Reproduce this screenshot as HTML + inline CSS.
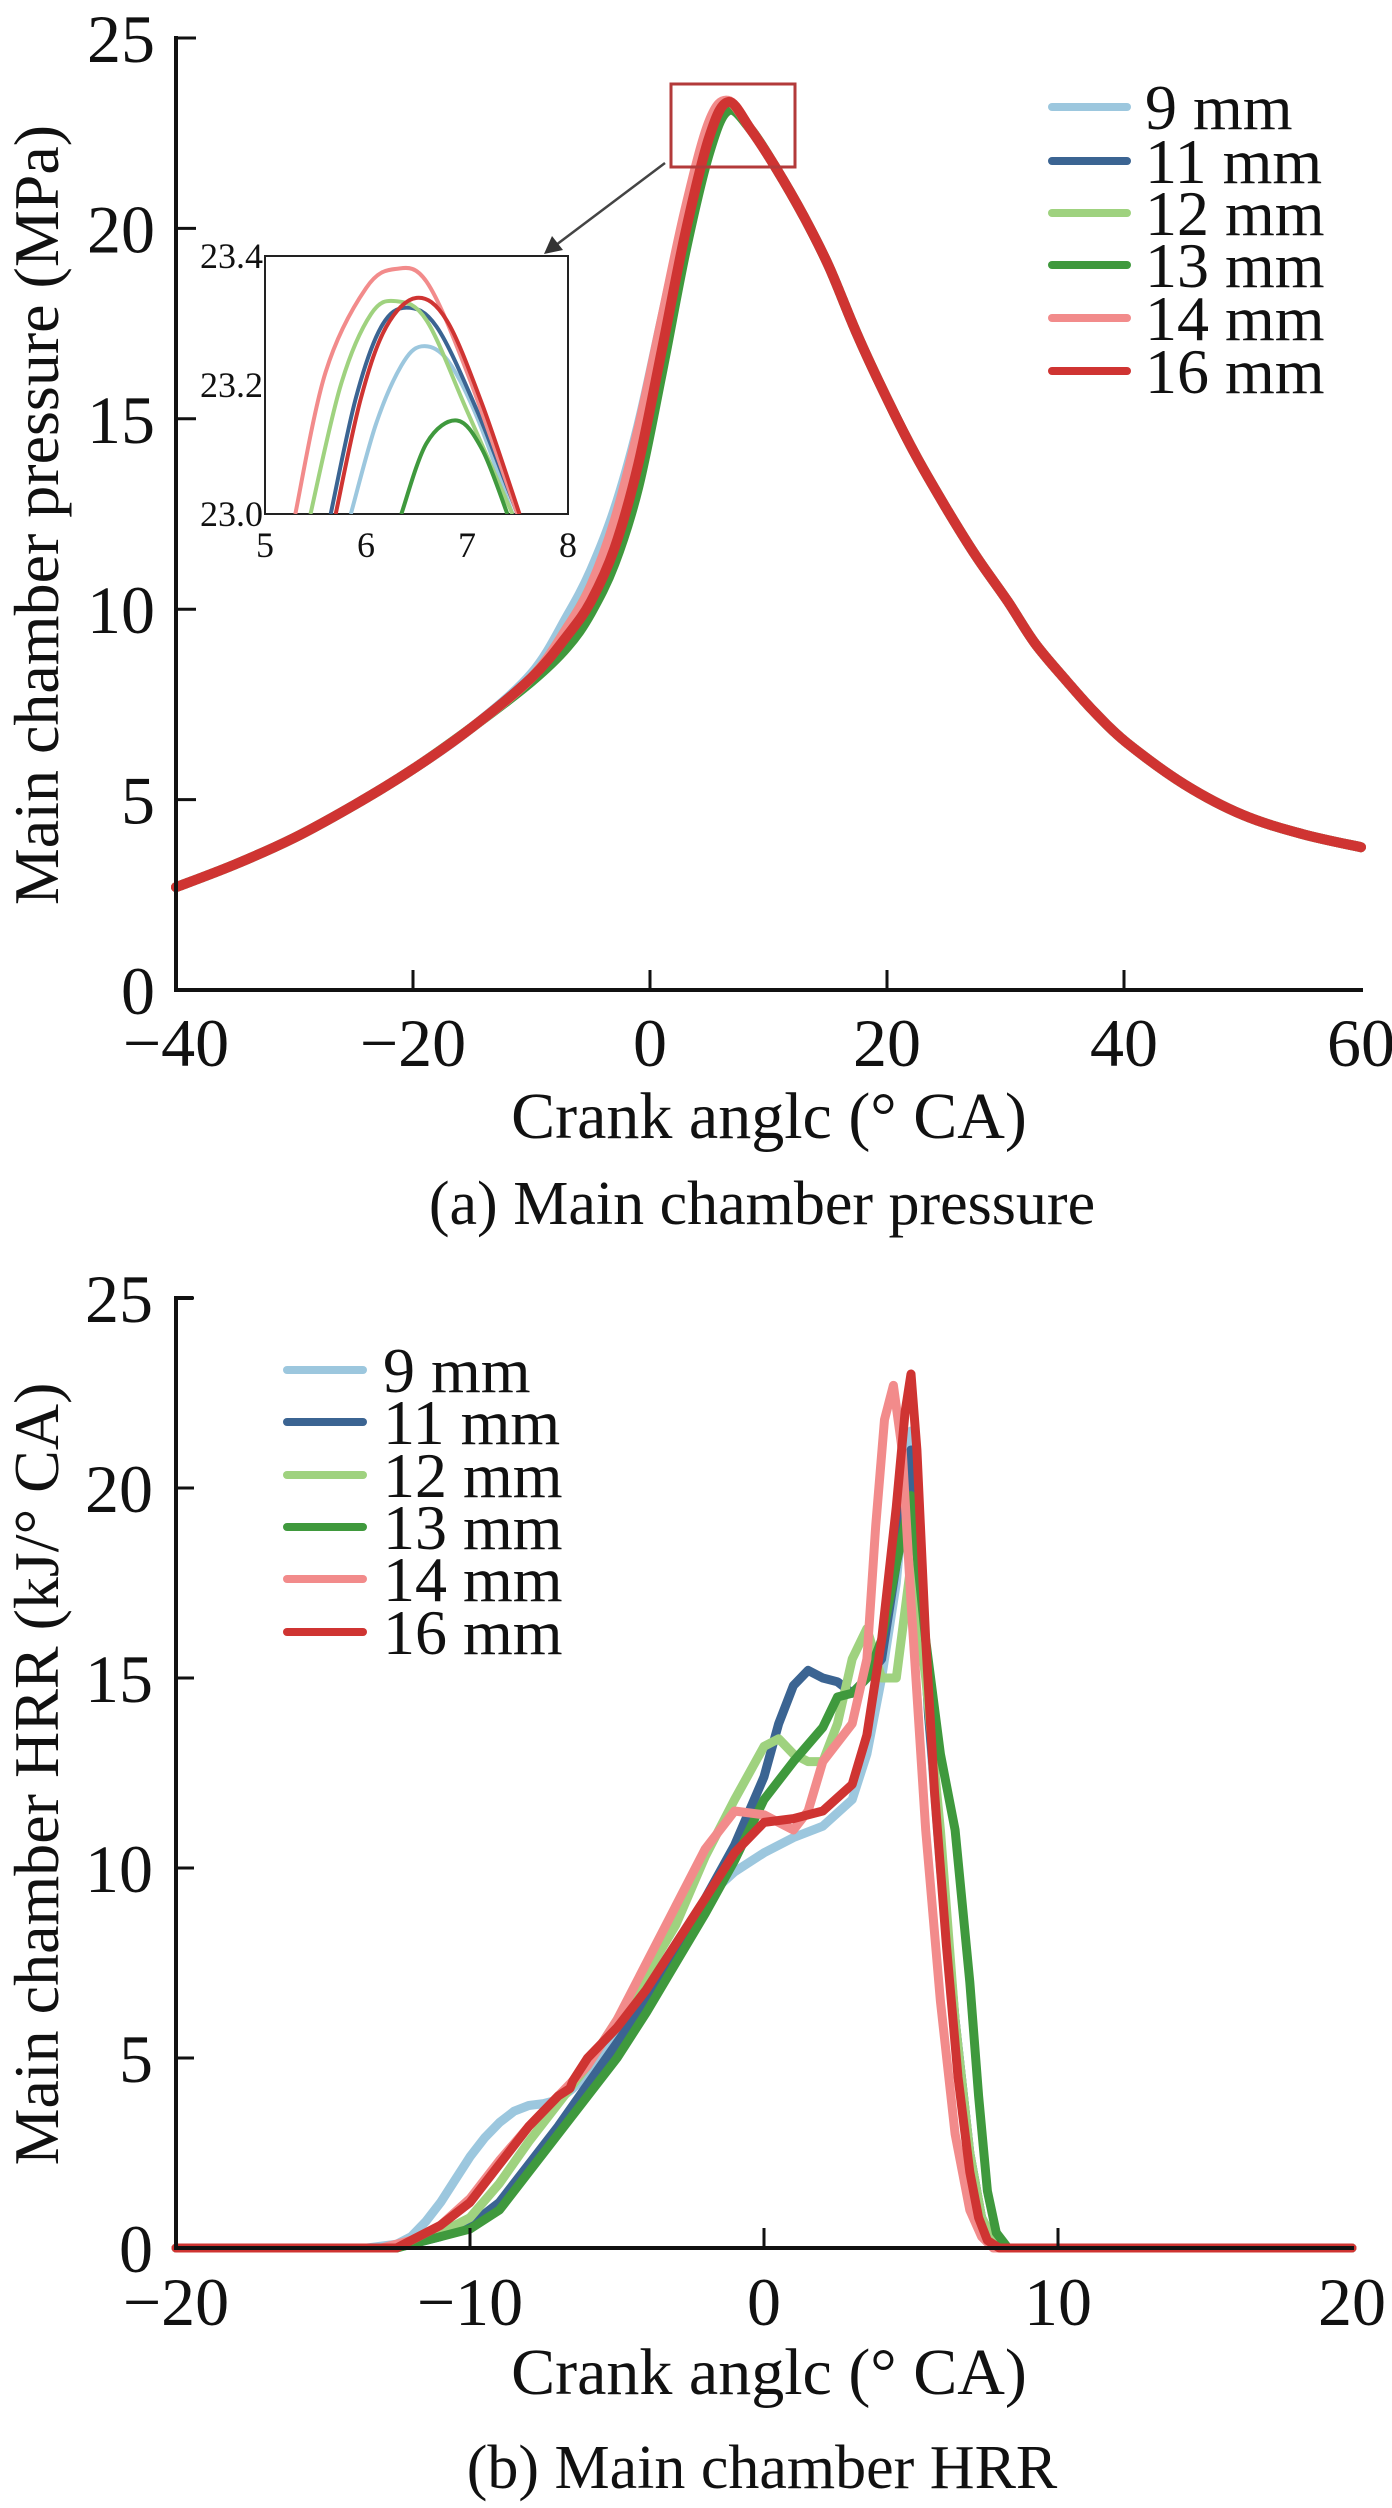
<!DOCTYPE html>
<html><head><meta charset="utf-8"><style>
html,body{margin:0;padding:0;background:#fff}
svg{display:block;font-family:"Liberation Serif","DejaVu Serif","Times New Roman",serif}
text{font-family:"Liberation Serif","DejaVu Serif","Times New Roman",serif}
</style></head><body>
<svg id="fig" width="1392" height="2508" viewBox="0 0 1392 2508" xmlns="http://www.w3.org/2000/svg">
<defs><clipPath id="insetClip"><rect x="265" y="256" width="303" height="258"/></clipPath></defs>
<g id="topChart"></g>
<g id="botChart"></g>
</svg>
<script>
const seriesNames = ["9 mm","11 mm","12 mm","13 mm","14 mm","16 mm"];
const seriesColors = ["#9cc7de","#3b6492","#9fd27f","#3f993d","#f28b8b","#cf3432"];
// Pressure chart data
const pX = [-40,-35,-30,-25,-20,-15,-10,-7,-5,-3,-1,1,3,5,6.6,8.5,10.6,13,15.1,17.5,20.2,22.5,25.1,27.5,30.2,32.5,35.2,37.5,40.2,45.1,50,55,60];
const p9  = [2.7,3.3,4.0,4.85,5.8,6.9,8.3,9.8,11.0,12.6,14.8,17.6,20.4,22.6,23.25,22.6,21.6,20.3,19.0,17.2,15.4,14.0,12.6,11.4,10.2,9.1,8.1,7.3,6.5,5.4,4.6,4.1,3.75];
const p11 = [2.7,3.3,4.0,4.85,5.8,6.9,8.2,9.3,10.3,11.8,14.0,17.0,20.0,22.5,23.3,22.6,21.6,20.3,19.0,17.2,15.4,14.0,12.6,11.4,10.2,9.1,8.1,7.3,6.5,5.4,4.6,4.1,3.75];
const p12 = [2.7,3.3,4.0,4.85,5.8,6.9,8.2,9.5,10.6,12.2,14.5,17.4,20.3,22.7,23.3,22.6,21.6,20.3,19.0,17.2,15.4,14.0,12.6,11.4,10.2,9.1,8.1,7.3,6.5,5.4,4.6,4.1,3.75];
const p13 = [2.7,3.3,4.0,4.85,5.8,6.9,8.1,9.0,9.9,11.2,13.2,16.2,19.4,22.0,23.1,22.6,21.6,20.3,19.0,17.2,15.4,14.0,12.6,11.4,10.2,9.1,8.1,7.3,6.5,5.4,4.6,4.1,3.75];
const p14 = [2.7,3.3,4.0,4.85,5.8,6.9,8.2,9.5,10.6,12.3,14.7,17.6,20.5,22.8,23.35,22.6,21.6,20.3,19.0,17.2,15.4,14.0,12.6,11.4,10.2,9.1,8.1,7.3,6.5,5.4,4.6,4.1,3.75];
const p16 = [2.7,3.3,4.0,4.85,5.8,6.9,8.2,9.3,10.2,11.6,13.8,16.8,19.9,22.4,23.32,22.6,21.6,20.3,19.0,17.2,15.4,14.0,12.6,11.4,10.2,9.1,8.1,7.3,6.5,5.4,4.6,4.1,3.75];
const pSeries = [p9,p11,p12,p13,p14,p16];
const pXTicks = [-40,-20,0,20,40,60];
const pYTicks = [0,5,10,15,20,25];
// Inset data
const i9x=[5.85,6.1,6.35,6.55,6.8,7.1,7.45], i9y=[23.0,23.14,23.23,23.26,23.24,23.15,23.0];
const i11x=[5.65,5.9,6.15,6.4,6.7,7.1,7.5], i11y=[23.0,23.18,23.29,23.32,23.29,23.16,23.0];
const i12x=[5.45,5.75,6.05,6.3,6.6,7.0,7.45], i12y=[23.0,23.2,23.31,23.33,23.3,23.16,23.0];
const i13x=[6.35,6.6,6.9,7.15,7.4], i13y=[23.0,23.11,23.145,23.1,23.0];
const i14x=[5.3,5.6,6.0,6.3,6.6,7.0,7.5], i14y=[23.0,23.22,23.35,23.38,23.36,23.22,23.0];
const i16x=[5.7,5.95,6.2,6.5,6.8,7.15,7.52], i16y=[23.0,23.18,23.29,23.335,23.3,23.17,23.0];
const iXs=[i9x,i11x,i12x,i13x,i14x,i16x], iYs=[i9y,i11y,i12y,i13y,i14y,i16y];
const iXTicks=[5,6,7,8], iYTicks=["23.0","23.2","23.4"];
// HRR data
const h9x=[-20,-13.5,-12.5,-12,-11.5,-11,-10.5,-10,-9.5,-9,-8.5,-8,-7.5,-7,-6.5,-6,-5,-4,-3,-2,-1,0,1,2,3,3.5,4,4.5,4.8,5,5.3,5.6,6,6.5,7,7.4,7.8,8.2,20];
const h9y=[0,0,0.1,0.3,0.7,1.2,1.8,2.4,2.9,3.3,3.6,3.75,3.8,3.9,4.2,4.6,5.6,6.8,8.0,9.2,9.9,10.4,10.8,11.1,11.8,13,15,17.5,20,21.5,18,14,10,6,2.5,0.8,0.2,0,0];
const h11x=[-20,-12.5,-12,-11,-10,-9,-8,-7,-6,-5,-4,-3,-2,-1,0,0.5,1,1.5,2,2.5,3,3.5,4,4.5,5,5.3,5.6,6,6.5,7,7.4,7.8,8.2,20];
const h11y=[0,0,0.1,0.3,0.6,1.2,2.2,3.2,4.3,5.4,6.5,7.8,9.2,10.6,12.4,13.8,14.8,15.2,15.0,14.9,14.6,15.0,15.5,18,21,18,14,10.5,6,2.5,0.8,0.2,0,0];
const h12x=[-20,-12.5,-12,-11,-10,-9,-8,-7,-6,-5,-4,-3,-2,-1,0,0.5,1,1.5,2,2.5,3,3.5,4,4.5,5,5.5,6,6.5,7,7.4,7.8,8.2,20];
const h12y=[0,0,0.1,0.4,0.8,1.7,2.8,3.8,4.8,6,7.2,8.5,10.3,11.8,13.2,13.4,13.0,12.8,12.8,13.8,15.5,16.3,15,15,18,15,11,6,2.5,0.8,0.2,0,0];
const h13x=[-20,-12.5,-12,-11,-10,-9,-8,-7,-6,-5,-4,-3,-2,-1,0,1,2,2.5,3,3.5,4,4.5,5,5.5,6,6.5,7,7.3,7.6,7.9,8.3,20];
const h13y=[0,0,0.1,0.3,0.5,1.0,2.0,3.0,4.0,5.0,6.2,7.5,8.8,10.2,11.8,12.8,13.7,14.5,14.6,15,16,18,19.8,16,13,11,7,4,1.5,0.4,0,0];
const h14x=[-20,-13,-12,-11,-10,-9,-8,-7,-6,-5,-4,-3,-2,-1,0,1,1.5,2,2.5,3,3.5,3.8,4.1,4.4,4.7,5,5.5,6,6.5,7,7.4,7.8,20];
const h14y=[0,0,0.2,0.6,1.3,2.3,3.2,4.0,4.8,6.0,7.5,9.0,10.5,11.5,11.4,11.0,11.5,12.8,13.3,13.8,15.5,19,21.8,22.7,21,17,11,6.5,3,1,0.3,0,0];
const h16x=[-20,-12.5,-12,-11,-10,-9,-8,-7,-6.6,-6.5,-6,-5,-4,-3,-2,-1,0,1,2,3,3.5,4,4.5,4.8,5,5.2,5.5,5.8,6.2,6.6,7,7.3,7.6,8,20];
const h16y=[0,0,0.2,0.6,1.2,2.2,3.2,4.0,4.2,4.4,5.0,5.8,6.8,8.0,9.2,10.4,11.2,11.3,11.5,12.2,13.5,16,19.5,22,23,21,16,12,8,4.5,2,0.8,0.2,0,0];
const hXs=[h9x,h11x,h12x,h13x,h14x,h16x], hYs=[h9y,h11y,h12y,h13y,h14y,h16y];
const hXTicks=[-20,-10,0,10,20];
const hYTicks=[0,5,10,15,20,25];

const NS="http://www.w3.org/2000/svg";
const FONT='"Liberation Serif","DejaVu Serif","Times New Roman",serif';
function mk(parent,tag,attrs,text){const e=document.createElementNS(NS,tag);for(const k in attrs)e.setAttribute(k,attrs[k]);if(tag==='text')e.setAttribute('font-family',FONT);if(text!==undefined)e.textContent=text;parent.appendChild(e);return e;}
function smoothPath(pts){
  let d="M"+pts[0][0].toFixed(1)+","+pts[0][1].toFixed(1);
  for(let i=0;i<pts.length-1;i++){
    const p0=pts[Math.max(0,i-1)],p1=pts[i],p2=pts[i+1],p3=pts[Math.min(pts.length-1,i+2)];
    const c1=[p1[0]+(p2[0]-p0[0])/6,p1[1]+(p2[1]-p0[1])/6];
    const c2=[p2[0]-(p3[0]-p1[0])/6,p2[1]-(p3[1]-p1[1])/6];
    d+="C"+c1[0].toFixed(1)+","+c1[1].toFixed(1)+" "+c2[0].toFixed(1)+","+c2[1].toFixed(1)+" "+p2[0].toFixed(1)+","+p2[1].toFixed(1);
  }
  return d;
}
function linePath(pts){return "M"+pts.map(p=>p[0].toFixed(1)+","+p[1].toFixed(1)).join("L");}
function axisFn(d0,d1,r0,r1){return v=>r0+(v-d0)/(d1-d0)*(r1-r0);}

// ---------- Top chart ----------
const topG=document.getElementById('topChart');
const px=axisFn(-40,60,176,1361), py=axisFn(0,25,990,38);
pSeries.forEach((ys,si)=>{
  const pts=pX.map((x,i)=>[px(x),py(ys[i])]);
  const el=mk(topG,'path',{d:smoothPath(pts),fill:'none',stroke:seriesColors[si],'stroke-width':10,'stroke-linejoin':'round','stroke-linecap':'round'});
  
  
});
const ax=mk(topG,'path',{d:`M176,36 V990 H1363`,fill:'none',stroke:'#111','stroke-width':4});


pXTicks.forEach(t=>{
  if(t>-40&&t<60){const tk=mk(topG,'line',{x1:px(t),x2:px(t),y1:990,y2:970,stroke:'#111','stroke-width':3});
  
  }
  const lb=mk(topG,'text',{x:px(t),y:1066,'font-size':68,'text-anchor':'middle',fill:'#111'},t<0?'\u2212'+(-t):String(t));
  
  
});
pYTicks.forEach(t=>{
  const tk=mk(topG,'line',{x1:176,x2:196,y1:py(t),y2:py(t),stroke:'#111','stroke-width':3});
  
  
  const lb=mk(topG,'text',{x:155,y:py(t)+24,'font-size':68,'text-anchor':'end',fill:'#111'},String(t));
  
  
});
const t1=mk(topG,'text',{x:769,y:1138,'font-size':66,'text-anchor':'middle',fill:'#111'},'Crank anglc (° CA)');


const c1=mk(topG,'text',{x:762,y:1224,'font-size':62,'text-anchor':'middle',fill:'#111'},'(a) Main chamber pressure');


const yt1=mk(topG,'text',{x:0,y:0,'font-size':64,'text-anchor':'middle',fill:'#111',transform:'translate(58,515) rotate(-90)'},'Main chamber pressure (MPa)');


const hr=mk(topG,'rect',{x:671,y:84,width:124,height:83,fill:'none',stroke:'#b33a3a','stroke-width':3});


const ar=mk(topG,'line',{x1:665,y1:163,x2:556,y2:245,stroke:'#444','stroke-width':2.5});


const ah=mk(topG,'polygon',{points:'544,254 552,236 563,250',fill:'#333'});


const lgY=[107,161,213,265,318,371];
seriesNames.forEach((n,i)=>{
  const l=mk(topG,'line',{x1:1052,x2:1127,y1:lgY[i],y2:lgY[i],stroke:seriesColors[i],'stroke-width':8,'stroke-linecap':'round'});
  
  
  const tx=mk(topG,'text',{x:1145,y:lgY[i]+22,'font-size':64,fill:'#111'},n);
  
  
});
// inset
const ix=axisFn(5,8,265,568), iy=axisFn(23.0,23.4,514,256);
const ib=mk(topG,'rect',{x:265,y:256,width:303,height:258,fill:'#fff',stroke:'#222','stroke-width':2});


const ig=mk(topG,'g',{'clip-path':'url(#insetClip)'});


iXs.forEach((xs,si)=>{
  const pts=xs.map((x,i)=>[ix(x),iy(iYs[si][i])]);
  const el=mk(ig,'path',{d:smoothPath(pts),fill:'none',stroke:seriesColors[si],'stroke-width':4});
  
  
});
iXTicks.forEach(t=>{
  const lb=mk(topG,'text',{x:ix(t),y:557,'font-size':36,'text-anchor':'middle',fill:'#111'},String(t));
  
  
});
iYTicks.forEach(t=>{
  const lb=mk(topG,'text',{x:263,y:iy(parseFloat(t))+12,'font-size':36,'text-anchor':'end',fill:'#111'},t);
  
  
});

// ---------- Bottom chart ----------
const botG=document.getElementById('botChart');
const hx=axisFn(-20,20,176,1352), hy=axisFn(0,25,2248,1298);
hXs.forEach((xs,si)=>{
  const pts=xs.map((x,i)=>[hx(x),hy(hYs[si][i])]);
  const el=mk(botG,'path',{d:linePath(pts),fill:'none',stroke:seriesColors[si],'stroke-width':9,'stroke-linejoin':'round','stroke-linecap':'round'});
  
  
});
const ax2=mk(botG,'path',{d:`M193,1298 H176 V2248 H1354`,fill:'none',stroke:'#111','stroke-width':4});


hXTicks.forEach(t=>{
  if(t>-20&&t<20){const tk=mk(botG,'line',{x1:hx(t),x2:hx(t),y1:2248,y2:2228,stroke:'#111','stroke-width':3});
  
  }
  const lb=mk(botG,'text',{x:hx(t),y:2325,'font-size':68,'text-anchor':'middle',fill:'#111'},t<0?'\u2212'+(-t):String(t));
  
  
});
hYTicks.forEach(t=>{
  const tk=mk(botG,'line',{x1:176,x2:194,y1:hy(t),y2:hy(t),stroke:'#111','stroke-width':3});
  
  
  const lb=mk(botG,'text',{x:153,y:hy(t)+24,'font-size':68,'text-anchor':'end',fill:'#111'},String(t));
  
  
});
const t2=mk(botG,'text',{x:769,y:2394,'font-size':66,'text-anchor':'middle',fill:'#111'},'Crank anglc (° CA)');


const c2=mk(botG,'text',{x:762,y:2488,'font-size':62,'text-anchor':'middle',fill:'#111'},'(b) Main chamber HRR');


const yt2=mk(botG,'text',{x:0,y:0,'font-size':64,'text-anchor':'middle',fill:'#111',transform:'translate(58,1774) rotate(-90)'},'Main chamber HRR (kJ/° CA)');


const lgY2=[1370,1422,1475,1527,1579,1632];
seriesNames.forEach((n,i)=>{
  const l=mk(botG,'line',{x1:287,x2:363,y1:lgY2[i],y2:lgY2[i],stroke:seriesColors[i],'stroke-width':8,'stroke-linecap':'round'});
  
  
  const tx=mk(botG,'text',{x:383,y:lgY2[i]+22,'font-size':64,fill:'#111'},n);
  
  
});
</script>
</body></html>
